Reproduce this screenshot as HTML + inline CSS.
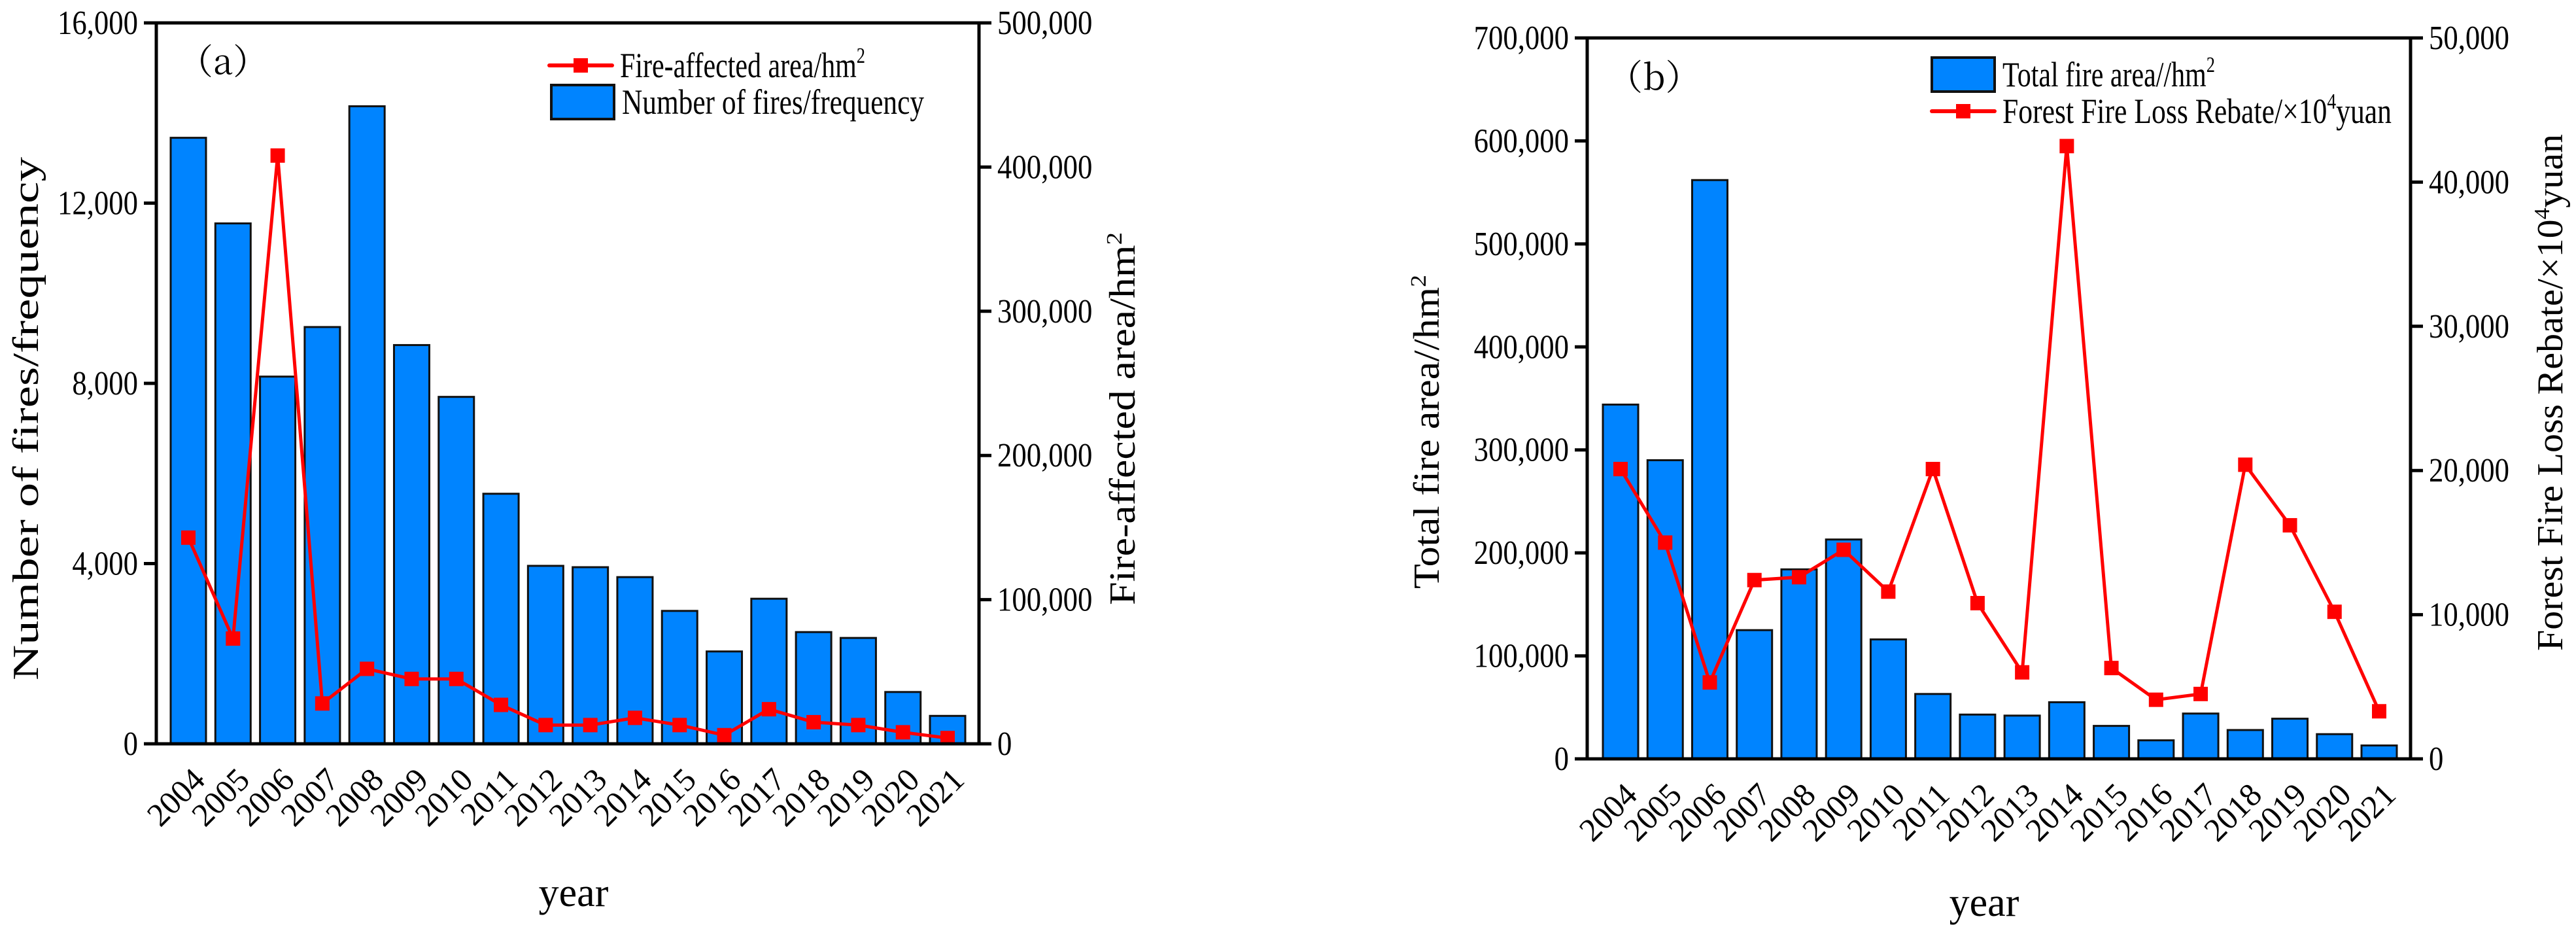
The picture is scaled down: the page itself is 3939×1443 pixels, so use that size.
<!DOCTYPE html>
<html><head><meta charset="utf-8"><style>
html,body{margin:0;padding:0;background:#fff;}
svg{display:block;font-family:"Liberation Serif","Noto Serif CJK SC",serif;}
</style></head><body>
<svg id="chart" width="3939" height="1443" viewBox="0 0 3939 1443" xmlns="http://www.w3.org/2000/svg"></svg>
<script>
const years = ["2004","2005","2006","2007","2008","2009","2010","2011","2012","2013","2014","2015","2016","2017","2018","2019","2020","2021"];
const fireCounts = [13450,11550,8150,9250,14150,8850,7700,5550,3950,3920,3700,2950,2050,3220,2480,2350,1150,620];
const fireArea = [143000,73000,408000,28000,52000,45000,45000,27000,13000,13000,18000,13000,6000,24000,15000,13000,8000,4000];
const totalFireArea = [344000,290000,562000,125000,184000,213000,116000,63000,43000,42000,55000,32000,18000,44000,28000,39000,24000,13000];
const lossRebate = [20100,15000,5300,12400,12600,14500,11600,20100,10800,6000,42500,6300,4100,4500,20400,16200,10200,3300];
const ticksA_left = [0,4000,8000,12000,16000];
const ticksA_right = [0,100000,200000,300000,400000,500000];
const ticksB_left = [0,100000,200000,300000,400000,500000,600000,700000];
const ticksB_right = [0,10000,20000,30000,40000,50000];

const NS="http://www.w3.org/2000/svg";
const svg=document.getElementById('chart');
function el(tag,attrs,parent){const e=document.createElementNS(NS,tag);for(const k in attrs)e.setAttribute(k,attrs[k]);(parent||svg).appendChild(e);return e;}
function fmt(v){return v.toLocaleString('en-US');}
function squeeze(t,f){const w=t.getComputedTextLength();t.setAttribute('textLength',w*f);t.setAttribute('lengthAdjust','spacingAndGlyphs');}

function panel(p){
  const g=el('g',{});
  
  
  const L=p.L,R=p.R,T=p.T,B=p.B,n=years.length;
  const step=(R-L-p.padL-p.padR)/(n-1);
  const xs=i=>L+p.padL+i*step;
  const yl=v=>B-(v/p.lmax)*(B-T);
  const yr=v=>B-(v/p.rmax)*(B-T);
  p.bars.forEach((v,i)=>{
    const r=el('rect',{x:xs(i)-27,y:yl(v),width:54,height:B-yl(v),fill:'#0084ff',stroke:'#111','stroke-width':3},g);
    
    
  });
  const pts=p.line.map((v,i)=>xs(i)+','+yr(v)).join(' ');
  const pl=el('polyline',{points:pts,fill:'none',stroke:'#ff0000','stroke-width':5},g);
  
  
  p.line.forEach((v,i)=>{
    const m=el('rect',{x:xs(i)-11,y:yr(v)-11,width:22,height:22,fill:'#ff0000'},g);
    
    
  });
  const fr=el('path',{d:`M${L},${T}H${R}M${L},${T}V${B}M${R},${T}V${B}M${L-19},${B}H${R+19}`,stroke:'#000','stroke-width':5,fill:'none'},g);
  
  
  p.lticks.forEach(v=>{
    const y=yl(v);
    el('line',{x1:L-19,x2:L,y1:y,y2:y,stroke:'#000','stroke-width':5},g);
    const t=el('text',{x:L-28,y:y+17,'font-size':52,'text-anchor':'end',fill:'#000'},g);
    t.textContent=fmt(v);squeeze(t,0.86);
    
    
  });
  p.rticks.forEach(v=>{
    const y=yr(v);
    el('line',{x1:R,x2:R+19,y1:y,y2:y,stroke:'#000','stroke-width':5},g);
    const t=el('text',{x:R+28,y:y+17,'font-size':52,'text-anchor':'start',fill:'#000'},g);
    t.textContent=fmt(v);squeeze(t,0.86);
    
    
  });
  years.forEach((yv,i)=>{
    const x=xs(i)+28,y=B+58;
    const t=el('text',{x:x,y:y,'font-size':50,'text-anchor':'end',transform:`rotate(-45 ${x} ${y})`,fill:'#000'},g);
    t.textContent=yv;
    
    
  });
  const xt=el('text',{x:p.xTitle[0],y:p.xTitle[1],'font-size':62,'text-anchor':'middle'},g);
  xt.textContent='year';
  
  
  const lt=el('text',{x:0,y:0,'font-size':56,'text-anchor':'middle',transform:`translate(${p.lTitle[0]},${p.lTitle[1]}) rotate(-90)`},g);
  lt.innerHTML=p.lTitleText;
  
  
  lt.setAttribute('textLength',p.lTitleLen);lt.setAttribute('lengthAdjust','spacingAndGlyphs');
  const rt=el('text',{x:0,y:0,'font-size':56,'text-anchor':'middle',transform:`translate(${p.rTitle[0]},${p.rTitle[1]}) rotate(-90)`},g);
  rt.innerHTML=p.rTitleText;
  
  
  rt.setAttribute('textLength',p.rTitleLen);rt.setAttribute('lengthAdjust','spacingAndGlyphs');
  const pt=el('text',{x:p.tag[0],y:p.tag[1],'font-size':54,'font-family':'"Noto Serif CJK SC",serif'},g);
  pt.textContent=p.tagText;
  
  
  const lg=el('g',{},g);
  
  
  p.legend.forEach(it=>{
    if(it.type==='bar'){
      el('rect',{x:it.x,y:it.y-26,width:96,height:52,fill:'#0084ff',stroke:'#111','stroke-width':4},lg);
    }else{
      el('line',{x1:it.x,x2:it.x+96,y1:it.y,y2:it.y,stroke:'#ff0000','stroke-width':6,'stroke-linecap':'round'},lg);
      el('rect',{x:it.x+37,y:it.y-11,width:22,height:22,fill:'#ff0000'},lg);
    }
    const t=el('text',{x:it.x+108,y:it.y+18,'font-size':54},lg);
    t.innerHTML=it.label;
    t.setAttribute('textLength',it.len);t.setAttribute('lengthAdjust','spacingAndGlyphs');
    
    
  });
}

panel({name:'panel-a',L:239,R:1497,T:35,B:1137,padL:49,padR:48,lmax:16000,rmax:500000,
  bars:fireCounts,line:fireArea,lineName:'fire-affected-area-line',lticks:ticksA_left,rticks:ticksA_right,
  xTitle:[877,1385],lTitle:[58,640],lTitleText:'Number of fires/frequency',lTitleLen:800,
  rTitle:[1735,640],rTitleText:'Fire-affected area/hm<tspan dy="-20" font-size="34">2</tspan>',rTitleLen:570,
  tag:[272,113],tagText:'（a）',
  legend:[{type:'line',x:840,y:100,label:'Fire-affected area/hm<tspan dy="-22" font-size="34">2</tspan>',len:375},
          {type:'bar',x:843,y:156,label:'Number of fires/frequency',len:462}]});
panel({name:'panel-b',L:2427,R:3686,T:58,B:1160,padL:51,padR:48,lmax:700000,rmax:50000,
  bars:totalFireArea,line:lossRebate,lineName:'loss-rebate-line',lticks:ticksB_left,rticks:ticksB_right,
  xTitle:[3034,1400],lTitle:[2200,660],lTitleText:'Total fire area//hm<tspan dy="-20" font-size="34">2</tspan>',lTitleLen:480,
  rTitle:[3918,600],rTitleText:'Forest Fire Loss Rebate/×10<tspan dy="-20" font-size="34">4</tspan><tspan dy="20">yuan</tspan>',rTitleLen:790,
  tag:[2458,137],tagText:'（b）',
  legend:[{type:'bar',x:2954,y:114,label:'Total fire area//hm<tspan dy="-22" font-size="34">2</tspan>',len:325},
          {type:'line',x:2954,y:170,label:'Forest Fire Loss Rebate/×10<tspan dy="-22" font-size="34">4</tspan><tspan dy="22">yuan</tspan>',len:595}]});
</script>
</body></html>
